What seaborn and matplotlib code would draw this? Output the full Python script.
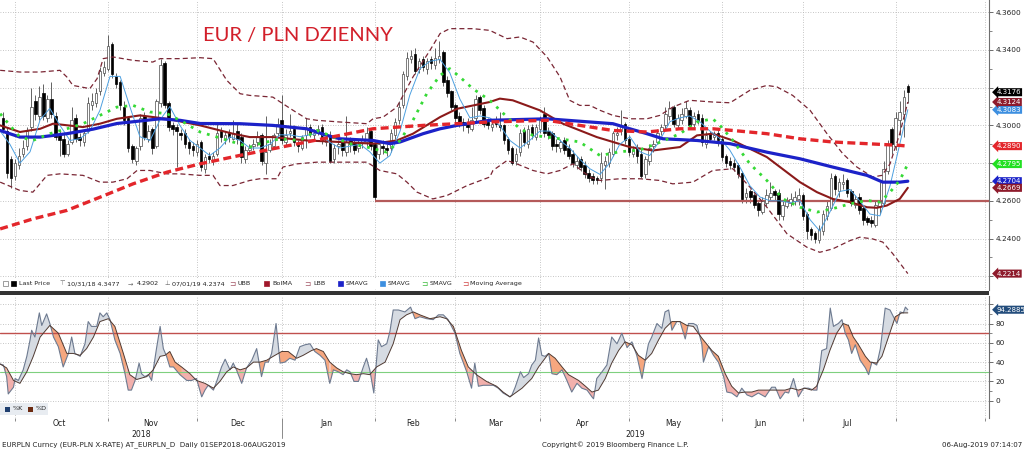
import numpy as np
import pandas as pd
import matplotlib
matplotlib.use("Agg")
import matplotlib.pyplot as plt
import matplotlib.transforms as mtransforms
from matplotlib.patches import Rectangle
import seaborn as sns

# ------------------------------------------------------------------ data
# prices are stored as thousandths above 4.2000  (price = 4.2 + v/1000)
BASE = 4.2
first_day = "2018-09-26"     # trading day 0
axis_end = "2019-09-03"      # right end of the time axis

open_v = [104, 97, 82, 73, 79, 85, 89, 99, 113, 105, 117, 104, 114, 105, 95,
          93, 85, 91, 104, 94, 91, 97, 111, 112, 118, 128, 130, 143, 126, 123,
          110, 104, 89, 81, 89, 105, 93, 98, 89, 112, 133, 112, 100, 99, 96,
          96, 91, 89, 86, 91, 77, 84, 81, 85, 97, 93, 96, 93, 97, 94,
          82, 87, 89, 91, 95, 80, 87, 89, 96, 103, 91, 96, 98, 90, 88,
          95, 99, 95, 97, 99, 91, 95, 82, 89, 91, 86, 92, 91, 88, 91,
          91, 97, 90, 85, 89, 88, 88, 95, 103, 111, 126, 135, 138, 130, 135,
          130, 135, 132, 135, 139, 124, 118, 111, 105, 102, 101, 98, 104, 115, 109,
          102, 99, 102, 100, 100, 93, 88, 81, 86, 97, 90, 99, 94, 98, 106,
          97, 96, 90, 88, 92, 88, 85, 79, 82, 79, 75, 73, 72, 72, 79,
          80, 85, 95, 97, 101, 93, 85, 88, 85, 74, 81, 89, 91, 97, 100,
          105, 110, 100, 103, 105, 108, 101, 106, 104, 90, 96, 94, 96, 93, 84,
          81, 80, 79, 75, 62, 65, 63, 59, 54, 59, 62, 65, 64, 52, 57,
          59, 60, 61, 63, 53, 45, 43, 39, 44, 52, 56, 73, 65, 69, 71,
          65, 58, 62, 56, 51, 50, 47, 57, 59, 76, 98, 89, 103, 106, 121]
close_v = [98, 75, 72, 80, 84, 88, 97, 110, 106, 115, 105, 114, 106, 94, 92,
           85, 90, 103, 93, 92, 96, 112, 113, 117, 129, 131, 142, 127, 122, 111,
           103, 88, 82, 88, 104, 94, 97, 88, 113, 132, 111, 99, 98, 97, 95,
           90, 88, 87, 90, 78, 83, 82, 84, 96, 94, 95, 94, 96, 93, 83,
           87, 88, 90, 94, 81, 86, 90, 95, 101, 92, 95, 97, 91, 89, 94,
           98, 96, 96, 98, 92, 94, 81, 88, 90, 87, 91, 90, 87, 90, 92,
           96, 89, 62, 90, 88, 87, 96, 102, 110, 127, 136, 137, 129, 134, 131,
           134, 133, 136, 137, 123, 117, 110, 104, 101, 100, 99, 103, 114, 108, 101,
           100, 101, 101, 99, 92, 87, 80, 85, 96, 91, 98, 95, 99, 103, 96,
           95, 89, 89, 91, 87, 84, 80, 81, 78, 74, 72, 71, 71, 80, 81,
           86, 96, 96, 100, 92, 86, 87, 84, 73, 82, 88, 90, 96, 99, 106,
           109, 101, 104, 106, 109, 100, 105, 103, 91, 95, 93, 95, 92, 83, 80,
           79, 78, 74, 61, 64, 62, 58, 55, 60, 63, 64, 63, 53, 58, 60,
           61, 62, 63, 52, 44, 42, 40, 45, 53, 57, 72, 66, 70, 70, 64,
           59, 61, 55, 50, 49, 48, 58, 60, 77, 90, 90, 104, 107, 115, 117.6]
high_v = [107, 99, 84, 82, 88, 92, 99, 120, 116, 121, 122, 116, 123, 107, 97,
          96, 92, 110, 106, 96, 97, 115, 117, 120, 131, 134, 147.7, 144, 128, 124,
          113, 105, 90, 89, 106, 107, 100, 99, 114, 135, 134, 113, 102, 101, 98,
          98, 93, 91, 92, 92, 85, 86, 86, 102, 99, 97, 98, 103, 101, 96,
          89, 90, 93, 97, 96, 105, 93, 96, 104, 116, 98, 106, 100, 92, 95,
          104, 101, 98, 100, 101, 96, 97, 90, 92, 93, 105, 94, 93, 92, 95,
          99, 98, 91, 91, 92, 90, 98, 104, 113, 129, 139, 140, 141, 136, 137,
          136, 137, 141, 144.5, 140, 126, 119, 112, 107, 104, 104, 110, 116, 116, 111,
          104, 103, 105, 107, 101, 94, 89, 88, 98, 99, 100, 101, 101, 105, 110,
          99, 97, 93, 93, 94, 90, 87, 84, 84, 81, 77, 75, 73, 86, 84,
          88, 97, 99, 108, 102, 95, 89, 90, 88, 84, 90, 92, 98, 101, 110,
          113, 111, 106, 109, 113, 110, 107, 108, 106, 97, 97, 97, 98, 95, 85,
          83, 82, 80, 76, 67, 66, 64, 60, 62, 66, 70, 66, 66, 60, 62,
          64, 65, 67, 64, 54, 46, 44, 47, 55, 60, 75, 74, 72, 74, 72,
          66, 63, 64, 57, 52, 52, 60, 70, 81, 92, 99, 107, 113, 119, 122]
low_v = [96, 72, 67, 71, 77, 83, 87, 97, 103, 103, 103, 102, 104, 92, 84,
         83, 84, 90, 91, 89, 89, 96, 108, 110, 116, 126, 129, 125, 120, 108,
         100, 86, 80, 79, 87, 92, 91, 85, 88, 110, 109, 97, 95, 78, 92,
         88, 85, 84, 84, 76, 75, 80, 79, 84, 91, 90, 91, 92, 90, 80,
         80, 85, 87, 89, 79, 74, 86, 88, 94, 90, 89, 94, 89, 86, 87,
         88, 94, 93, 95, 90, 89, 80, 80, 85, 84, 84, 86, 85, 86, 88,
         89, 87, 60, 82, 85, 84, 86, 93, 101, 109, 124, 133, 127, 128, 129,
         127, 130, 130, 133, 121, 115, 108, 101, 99, 97, 96, 97, 102, 106, 99,
         98, 97, 99, 97, 90, 85, 79, 79, 84, 89, 88, 93, 92, 96, 94,
         93, 87, 86, 86, 85, 82, 78, 77, 76, 72, 70, 69, 69, 70, 66,
         78, 84, 92, 95, 90, 84, 83, 80, 72, 72, 79, 86, 90, 95, 98,
         103, 99, 98, 101, 104, 98, 99, 101, 89, 88, 91, 92, 89, 81, 78,
         77, 76, 72, 59, 59, 59, 56, 52, 53, 57, 60, 60, 50, 50, 56,
         57, 58, 58, 50, 40, 39, 37.4, 37.5, 42, 50, 55, 63, 62, 66, 62,
         57, 56, 53, 47, 47, 46, 46, 53, 57, 74, 85, 87, 95, 94, 112]

# indicator lines (trading-day number, value)
ubb_day = [-0.7, 4.2, 9.2, 14.1, 15.8, 17.3, 21.5, 23.3, 24.8, 27.2, 32.2, 37.1, 38.9, 43.8, 48.8, 52.0,
           55.4, 58.7, 61.1, 66.8, 69.3, 71.8, 75.2, 77.7, 83.4, 90.1, 91.6, 94.1, 97.5, 101.5, 105.7,
           108.2, 110.6, 116.3, 120.5, 124.8, 128.0, 131.2, 134.7, 137.9, 140.3, 142.8, 145.3, 147.8,
           151.0, 155.2, 159.4, 162.6, 165.8, 170.0, 175.7, 180.0, 184.9, 189.1, 191.6, 195.5, 199.8,
           204.0, 207.9, 211.4, 215.3, 217.6, 219.6, 222.0, 224.0]
ubb_v = [129.2, 128.3, 128.3, 129.2, 125.7, 121.2, 119.5, 124.8, 135.4, 136.3, 134.5, 133.6, 135.4, 135.4,
         135.9, 135.4, 123.9, 116.8, 115.9, 115.0, 111.5, 108.0, 103.5, 102.7, 101.8, 100.9, 103.5, 104.4,
         109.7, 125.7, 139.8, 148.7, 151.3, 151.3, 150.4, 146.0, 146.9, 144.2, 136.3, 125.7, 113.3, 110.6,
         110.6, 108.0, 105.3, 103.5, 103.5, 105.3, 109.7, 113.3, 112.4, 112.0, 118.6, 121.2, 120.4, 115.9,
         108.0, 95.6, 85.0, 77.9, 72.6, 73.5, 79.6, 95.6, 112.4]
lbb_day = [-0.7, 4.2, 7.4, 10.9, 14.1, 19.8, 24.0, 27.2, 30.7, 33.2, 36.4, 40.6, 43.8, 48.8, 52.0, 53.7,
           56.9, 61.1, 63.6, 67.8, 69.3, 72.8, 77.7, 83.4, 90.1, 93.3, 97.5, 100.0, 102.5, 106.4, 109.9,
           114.9, 120.5, 121.3, 124.8, 127.2, 131.2, 134.7, 137.9, 141.1, 145.3, 147.8, 152.7, 157.7,
           162.6, 165.8, 170.8, 175.7, 180.7, 184.9, 189.1, 194.1, 199.0, 202.2, 205.4, 209.7, 212.1,
           215.3, 217.8, 220.3, 224.0]
lbb_v = [69.9, 65.5, 64.6, 73.5, 74.3, 73.5, 69.9, 69.9, 71.7, 76.1, 76.1, 74.3, 74.3, 73.5, 73.5, 68.1,
         68.1, 70.8, 71.7, 71.7, 77.9, 79.6, 80.5, 80.5, 80.5, 76.1, 74.3, 69.9, 64.6, 61.0, 62.8, 68.1,
         72.6, 76.1, 81.4, 79.6, 76.1, 74.3, 76.1, 79.6, 72.6, 70.8, 71.7, 71.7, 70.8, 69.0, 69.9, 76.1,
         77.0, 67.3, 56.6, 42.5, 35.4, 32.7, 34.5, 38.9, 40.7, 39.8, 38.1, 31.9, 21.4]
bolma_day = [-0.7, 4.2, 9.2, 12.4, 19.8, 24.0, 28.2, 33.9, 40.6, 48.8, 56.9, 61.1, 66.8, 75.2, 83.4, 91.6,
             97.5, 101.5, 108.2, 112.4, 120.5, 123.0, 126.2, 132.9, 138.6, 147.0, 155.2, 160.9, 167.6,
             171.8, 175.7, 180.7, 189.1, 197.3, 201.5, 205.4, 209.7, 213.9, 216.3, 218.8, 222.0, 224.0]
bolma_v = [100.0, 96.5, 98.2, 100.9, 99.1, 100.9, 103.5, 105.3, 103.5, 100.0, 95.6, 93.8, 93.8, 92.0, 91.2,
           90.3, 92.0, 95.6, 104.4, 108.8, 112.4, 114.2, 113.3, 108.0, 100.9, 93.8, 88.5, 86.7, 88.5, 94.7,
           95.6, 92.0, 83.2, 69.9, 64.6, 61.0, 59.3, 56.6, 56.3, 57.5, 61.0, 66.9]
sma_blue_day = [-0.7, 4.2, 9.2, 15.8, 22.3, 28.2, 38.9, 43.8, 48.8, 58.7, 66.8, 75.2, 80.2, 83.4, 91.6,
                95.8, 98.3, 104.0, 108.2, 112.4, 120.5, 134.7, 151.0, 155.2, 159.4, 163.4, 171.8, 180.0,
                189.1, 197.3, 205.4, 213.9, 217.8, 222.0, 224.0]
sma_blue_v = [97.3, 93.8, 93.8, 95.6, 98.0, 101.0, 103.5, 102.7, 101.0, 100.9, 100.0, 98.2, 94.7, 92.9,
              92.0, 90.3, 91.2, 95.6, 98.2, 100.0, 102.7, 103.5, 100.9, 98.2, 95.6, 92.9, 92.0, 90.3,
              85.8, 82.3, 77.9, 73.5, 69.9, 69.9, 70.4]
sma_light_day = [-0.7, 1.7, 4.2, 6.7, 9.2, 11.6, 14.1, 16.6, 19.1, 21.5, 24.0, 26.5, 29.0, 31.4, 33.9, 36.4,
                 38.9, 41.3, 43.8, 46.3, 48.8, 51.2, 53.7, 56.2, 58.7, 61.1, 63.6, 66.1, 68.6, 71.0, 73.5,
                 76.0, 78.5, 80.9, 83.4, 85.9, 88.4, 90.8, 93.3, 95.8, 98.3, 100.7, 103.2, 105.7, 108.2,
                 110.6, 113.1, 115.6, 118.1, 120.5, 123.0, 125.5, 128.0, 130.4, 132.9, 135.4, 137.9, 140.3,
                 142.8, 145.3, 147.8, 150.2, 152.7, 155.2, 157.7, 160.1, 162.6, 165.1, 167.6, 170.0, 172.5,
                 175.0, 177.5, 179.9, 182.4, 184.9, 187.4, 189.9, 192.3, 194.8, 197.3, 199.8, 202.2, 204.7,
                 207.2, 209.7, 212.1, 214.6, 217.1, 219.6, 222.0, 224.0]
sma_light_v = [97, 90, 80, 86, 103, 109, 100, 92, 93, 97, 108, 126, 126, 110, 94, 92, 103, 110, 100, 92,
               88, 84, 88, 94, 92, 88, 88, 90, 95, 95, 94, 95, 96, 91, 88, 89, 90, 86, 80, 84,
               97, 116, 130, 134, 135, 128, 114, 104, 105, 104, 100, 92, 88, 92, 97, 97, 92, 88, 82, 77,
               74, 80, 90, 94, 86, 84, 92, 102, 104, 105, 102, 97, 93, 87, 78, 68, 62, 60, 60, 59,
               60, 50, 44, 54, 65, 66, 60, 53, 52, 68, 90, 108.3]
sma_green_day = [-0.7, 1.7, 4.2, 7.4, 11.6, 15.8, 19.8, 24.0, 28.2, 32.2, 36.4, 40.6, 44.6, 48.8, 53.0,
                 56.9, 61.1, 63.6, 68.6, 73.5, 77.7, 80.9, 85.9, 90.1, 95.0, 98.3, 101.5, 104.9, 108.2,
                 110.6, 113.1, 116.3, 120.5, 124.8, 128.0, 131.2, 134.7, 137.9, 142.8, 147.8, 152.7,
                 157.7, 162.6, 167.6, 171.8, 175.7, 177.5, 180.7, 184.9, 189.1, 193.1, 197.3, 201.5,
                 205.4, 209.7, 213.9, 217.1, 219.6, 222.0, 224.0]
sma_green_v = [106.2, 100.0, 93.8, 92.0, 95.6, 98.2, 100.9, 105.3, 109.7, 110.6, 107.1, 106.2, 101.8, 96.5,
               93.8, 91.2, 88.5, 90.3, 92.9, 92.0, 97.3, 94.7, 90.3, 88.5, 85.8, 92.0, 102.7, 116.8, 126.5,
               130.1, 125.7, 119.5, 113.3, 104.4, 98.2, 94.7, 93.8, 92.9, 91.2, 84.0, 86.0, 87.0, 91.0,
               95.6, 101.8, 103.5, 100.0, 92.0, 79.6, 70.8, 61.0, 56.6, 54.0, 55.8, 58.4, 60.2, 59.3,
               64.6, 70.8, 79.5]
mavg_day = [-0.7, 7.4, 15.8, 24.0, 32.2, 40.6, 48.8, 58.7, 75.2, 91.6, 104.0, 120.5, 134.7, 142.8, 151.0,
            159.4, 167.6, 175.7, 180.7, 189.1, 197.3, 205.4, 213.9, 222.0, 224.0]
mavg_v = [45.1, 50.4, 54.9, 61.9, 69.0, 75.2, 79.6, 84.1, 91.2, 98.2, 100.0, 101.8, 102.7, 100.0, 97.3,
          96.5, 98.2, 98.2, 97.3, 95.6, 92.9, 91.2, 90.3, 89.4, 89.0]
support_level = 4.2600
support_from_day = 92

# stochastic oscillator (%K, %D)
k_day = [-0.7, 0.1, 0.9, 1.3, 2.6, 3.0, 3.8, 5.0, 5.9, 6.7, 7.1, 7.9, 9.0, 9.6, 10.8, 11.6, 12.5, 13.7, 14.9,
         16.2, 17.0, 17.8, 19.1, 20.3, 21.1, 21.9, 23.2, 24.0, 24.8, 25.7, 26.5, 27.7, 29.0, 30.2, 31.0, 31.8,
         32.7, 33.7, 34.3, 35.1, 36.0, 36.8, 38.0, 38.9, 39.7, 40.5, 41.3, 42.2, 43.8, 45.5, 46.7, 47.9, 49.2,
         50.0, 50.8, 52.1, 52.9, 54.1, 55.0, 56.2, 57.0, 57.8, 59.1, 60.3, 61.6, 62.8, 64.0, 64.9, 65.7, 66.5,
         67.6, 68.6, 69.8, 71.0, 72.3, 73.5, 74.8, 76.0, 77.2, 78.5, 79.7, 80.9, 81.8, 83.0, 84.2, 85.1, 85.9,
         86.9, 88.0, 89.2, 90.0, 90.8, 91.8, 92.9, 93.7, 95.0, 95.8, 96.6, 97.9, 99.5, 100.9, 102.0, 103.2,
         104.9, 106.5, 107.8, 109.0, 110.2, 111.9, 113.1, 114.8, 116.0, 116.8, 117.7, 118.9, 120.1, 121.4,
         122.6, 123.8, 125.5, 126.0, 126.8, 128.1, 128.9, 130.1, 130.9, 131.8, 132.6, 133.4, 134.2, 135.1,
         135.9, 137.1, 138.4, 139.6, 140.8, 142.1, 143.3, 144.6, 145.8, 146.2, 147.0, 148.3, 149.5, 150.7,
         152.0, 153.2, 154.5, 155.7, 156.9, 158.2, 159.0, 159.8, 160.6, 161.9, 163.1, 163.9, 164.8, 165.6,
         166.8, 167.6, 168.9, 169.7, 170.9, 171.8, 173.0, 173.4, 174.7, 175.9, 177.1, 178.4, 179.2, 180.4,
         181.7, 182.9, 184.2, 185.4, 187.0, 188.7, 190.3, 191.2, 192.4, 193.6, 194.5, 195.7, 196.9, 198.2,
         199.4, 200.7, 201.5, 202.7, 203.9, 204.8, 205.6, 206.8, 207.7, 208.5, 209.3, 210.1, 211.0, 212.2,
         213.5, 214.3, 215.1, 216.3, 217.2, 218.4, 219.6, 221.3, 222.1, 222.9, 223.4, 224.0]
k_val = [38, 37, 25, 7, 14, 23, 21, 32, 46, 63, 73, 66, 91, 78, 90, 80, 66, 56, 35,
         49, 66, 49, 46, 59, 82, 77, 77, 91, 87, 91, 84, 63, 49, 28, 11, 11,
         21, 39, 28, 25, 27, 21, 54, 77, 54, 46, 35, 35, 27, 21, 21, 23, 4,
         11, 16, 11, 20, 35, 43, 32, 39, 32, 18, 34, 42, 54, 25, 40, 40, 49,
         80, 39, 40, 44, 42, 56, 58, 59, 51, 47, 42, 18, 32, 30, 27, 32, 30,
         20, 20, 35, 44, 32, 8, 63, 56, 59, 72, 94, 94, 92, 97, 85, 87,
         85, 84, 89, 89, 84, 70, 49, 30, 13, 39, 15, 16, 16, 16,
         13, 8, 4, 6, 14, 30, 24, 28, 37, 42, 65, 47, 46, 49,
         28, 27, 32, 21, 9, 18, 13, 11, 4, 2, 23, 30, 37, 66,
         59, 70, 55, 61, 47, 23, 42, 59, 66, 80, 75, 92, 94, 73,
         82, 82, 64, 80, 80, 78, 59, 40, 56, 47, 40, 25, 9, 8,
         4, 13, 6, 4, 8, 4, 14, 14, 2, 9, 8, 23, 4, 13,
         13, 11, 11, 52, 54, 96, 77, 80, 84, 70, 63, 49, 58, 42,
         34, 27, 40, 37, 54, 96, 94, 80, 92, 91, 97, 94.2885]
d_day = [-0.7, 0.9, 2.6, 4.2, 5.9, 7.5, 9.2, 11.6, 13.7, 15.8, 17.4, 19.1, 20.7, 22.4, 24.0, 26.1, 27.7,
         29.8, 31.4, 33.1, 35.6, 37.2, 38.9, 40.1, 41.3, 42.6, 44.2, 46.3, 47.9, 50.0, 52.1, 53.7, 55.4,
         57.0, 58.7, 60.3, 62.0, 63.6, 65.3, 66.9, 69.0, 70.6, 72.7, 74.3, 76.4, 77.6, 79.3, 80.9, 82.6,
         84.2, 85.9, 87.5, 89.2, 90.8, 92.5, 94.6, 96.6, 98.3, 99.9, 101.6, 103.2, 105.7, 108.2, 109.8,
         111.5, 113.5, 115.2, 117.2, 119.7, 122.2, 123.8, 125.5, 128.5, 130.9, 132.6, 134.2, 135.1, 136.7,
         138.4, 140.0, 142.5, 144.2, 145.8, 147.4, 149.1, 150.7, 152.4, 154.0, 155.7, 157.3, 159.0, 160.6,
         162.3, 163.9, 165.6, 167.6, 169.3, 170.9, 173.0, 175.5, 177.1, 178.8, 180.4, 182.1, 183.7, 185.4,
         187.0, 188.7, 190.3, 191.9, 193.6, 195.2, 196.9, 198.5, 200.2, 201.4, 203.1, 204.7, 206.4, 208.0,
         209.3, 210.5, 211.8, 213.5, 214.7, 216.3, 217.6, 219.2, 220.9, 222.5, 224.0]
d_val = [38, 34, 21, 18, 30, 46, 66, 78, 70, 49, 49, 47, 54, 66, 82, 85, 77,
         49, 27, 22, 25, 32, 46, 47, 51, 40, 35, 28, 21, 18, 13, 20, 30,
         35, 32, 34, 40, 40, 42, 46, 51, 51, 44, 47, 52, 54, 51, 40, 34,
         30, 28, 27, 28, 27, 35, 40, 59, 84, 89, 92, 89, 85, 87, 85,
         77, 52, 35, 27, 20, 15, 9, 4, 13, 23, 35, 44, 49, 44,
         35, 27, 21, 15, 9, 11, 23, 39, 52, 61, 58, 47, 42, 49,
         63, 75, 82, 82, 78, 77, 65, 52, 46, 28, 15, 8, 9, 9,
         11, 11, 11, 11, 11, 13, 11, 13, 11, 15, 32, 52, 70, 80,
         78, 66, 58, 46, 40, 39, 46, 66, 87, 91, 91]
stoch_upper, stoch_lower = 70, 30

# right-edge value tags (value, colour)
price_tags = [(4.3083, "#3d8fe0"), (4.3124, "#8e1b2c"), (4.3176, "#000000"),
              (4.2890, "#e3262b"), (4.2795, "#22e022"), (4.2704, "#1a22c8"),
              (4.2669, "#8e1b2c"), (4.2214, "#8e1b2c")]
stoch_tag = 94.2885
# right-axis labels that sit under a value tag in the chart
price_ticks = [4.22, 4.24, 4.26, 4.28, 4.30, 4.32, 4.34, 4.36]
price_tick_shown = [False, True, True, False, True, False, True, True]
stoch_ticks = [0, 20, 40, 60, 80, 100]
stoch_tick_shown = [True, True, True, True, True, False]

title_text = "EUR / PLN DZIENNY"
legend_items = ["Last Price", "10/31/18 4.3477", "4.2902", "07/01/19 4.2374", "UBB", "BolMA",
                "LBB", "SMAVG", "SMAVG", "SMAVG", "Moving Average"]
footer_left = "EURPLN Curncy (EUR-PLN X-RATE) AT_EURPLN_D  Daily 01SEP2018-06AUG2019"
footer_mid = "Copyright\u00a9 2019 Bloomberg Finance L.P."
footer_right = "06-Aug-2019 07:14:07"

# ------------------------------------------------------------------ figure
sns.set_theme(style="white")
plt.rcParams["font.family"] = ["DejaVu Sans"]

W, H = 1024, 451
fig = plt.figure(figsize=(W / 100, H / 100), dpi=100)
fig.patch.set_facecolor("white")


def fx(px):
    return px / W


def fy(px):
    return 1 - px / H


ax1 = fig.add_axes([0, fy(290), fx(989), 290 / H])
ax2 = fig.add_axes([0, fy(418), fx(989), (418 - 296) / H])
for a in (ax1, ax2):
    a.set_facecolor("white")

P = lambda v: BASE + np.asarray(v, float) / 1000.0

cal = pd.bdate_range(first_day, axis_end)
XMIN, XMAX = -0.74, len(cal) - 0.9
ax1.set_xlim(XMIN, XMAX)
ax2.set_xlim(XMIN, XMAX)
ax1.set_ylim(4.2127, 4.3665)
ax2.set_ylim(-17.9, 108.5)

# month boundaries / label positions from the business-day calendar
per = cal.to_period("M")
month_start, month_mid, month_lab = [], [], []
for p in per.unique():
    ids = np.where(per == p)[0]
    if ids[0] > 0:
        month_start.append(ids[0])
    if ids[0] > 0 and ids[-1] < len(cal) - 3:
        month_mid.append((ids[0] + ids[-1]) / 2)
        month_lab.append(p.strftime("%b"))
jan_idx = int(np.where((cal.month == 1) & (cal.year == 2019))[0][0])

grid_kw = dict(color="#b3b3b3", lw=0.6, linestyle=(0, (1, 2)), zorder=0.5)
for m in month_start:
    ax1.axvline(m, **grid_kw)
    ax2.axvline(m, **grid_kw)
for yv in price_ticks:
    ax1.axhline(yv, **grid_kw)
for yv in stoch_ticks:
    ax2.axhline(yv, **grid_kw)
ax2.axhline(-17.6, color="#9a9a9a", lw=0.7, linestyle=(0, (1, 2)), zorder=0.5)

# ---- candles
o, c, h, l = P(open_v), P(close_v), P(high_v), P(low_v)
days = np.arange(len(close_v))
up = c >= o
ax1.vlines(days, l, h, color="#4a4a4a", lw=0.6, zorder=2)
ax1.bar(days[up], np.maximum((c - o)[up], 0.00015), bottom=o[up], width=0.62, color="white",
        edgecolor="#4a4a4a", linewidth=0.5, zorder=3)
ax1.bar(days[~up], (o - c)[~up], bottom=c[~up], width=0.62, color="black",
        edgecolor="black", linewidth=0.5, zorder=3)

# ---- support line
ax1.hlines(support_level, support_from_day, XMAX, color="#b45a5a", lw=1.6, zorder=2.5)


def sline(ax, xd, yv, color, lw, dash=None, z=4, cap="butt"):
    sns.lineplot(x=np.asarray(xd, float), y=np.asarray(yv, float), ax=ax, estimator=None,
                 sort=False, legend=False, color=color, linewidth=lw, zorder=z)
    ln = ax.lines[-1]
    if dash is not None:
        ln.set_linestyle((0, dash))
        ln.set_dash_capstyle(cap)
    return ln


sline(ax1, ubb_day, P(ubb_v), "#7a2634", 0.9, dash=(4, 2.5))
sline(ax1, lbb_day, P(lbb_v), "#7a2634", 0.9, dash=(4, 2.5))
sline(ax1, bolma_day, P(bolma_v), "#8b1a1a", 1.5)
sline(ax1, sma_light_day, P(sma_light_v), "#4da0e0", 0.7)
sline(ax1, sma_blue_day, P(sma_blue_v), "#1c22c8", 2.3, z=4.5)
sline(ax1, sma_green_day, P(sma_green_v), "#36d936", 2.0, dash=(1.0, 2.2), z=4.6)
sline(ax1, mavg_day, P(mavg_v), "#e3262b", 2.4, dash=(2.4, 1.3), z=4.7)

# ---- stochastic panel
t = np.linspace(k_day[0], k_day[-1], 6000)
kk = np.interp(t, k_day, k_val)
dd = np.interp(t, d_day, d_val)
low = (kk + dd) / 2 < 30
ax2.fill_between(t, kk, dd, where=kk >= dd, interpolate=True, color="#d6dbe2", lw=0, zorder=1)
ax2.fill_between(t, kk, dd, where=(kk < dd) & ~low, interpolate=True, color="#f6a77f", lw=0, zorder=1)
ax2.fill_between(t, kk, dd, where=(kk < dd) & low, interpolate=True, color="#f2b0ac", lw=0, zorder=1)
ax2.axhline(stoch_upper, color="#c0504d", lw=1.0, zorder=1.5)
ax2.axhline(stoch_lower, color="#7fd07f", lw=0.8, zorder=1.5)
sline(ax2, k_day, k_val, "#6d7a90", 0.8, z=3)
sline(ax2, d_day, d_val, "#4f3a32", 0.7, z=3.1)

# ---- axes cosmetics
for a in (ax1, ax2):
    for s in ("left", "top", "bottom"):
        a.spines[s].set_visible(False)
    a.spines["right"].set_color("#6f6f6f")
    a.spines["right"].set_linewidth(0.8)
    a.yaxis.tick_right()
    a.tick_params(axis="y", which="major", right=True, length=3, width=0.6, color="#555555",
                  labelsize=5.3, labelcolor="#222222", pad=1.5)
    a.tick_params(axis="y", which="minor", right=True, length=2, width=0.5, color="#555555")
    a.set_xlabel("")
    a.set_ylabel("")

ax1.set_yticks(price_ticks)
ax1.set_yticks([v + 0.01 for v in price_ticks[:-1]], minor=True)
ax1.set_yticklabels([f"{v:.4f}" if s else "" for v, s in zip(price_ticks, price_tick_shown)])
ax1.set_xticks([])
ax2.set_yticks(stoch_ticks)
ax2.set_yticks([v + 10 for v in stoch_ticks[:-1]], minor=True)
ax2.set_yticklabels([str(v) if s else "" for v, s in zip(stoch_ticks, stoch_tick_shown)])
ax2.set_xticks(month_start)
ax2.set_xticklabels([])
ax2.tick_params(axis="x", bottom=True, length=2.5, width=0.6, color="#777777")

bx = mtransforms.blended_transform_factory(ax2.transData, ax2.transAxes)
for m, lab in zip(month_mid, month_lab):
    ax2.text(m, -0.049, lab, transform=bx, ha="center", va="center", fontsize=5.6, color="#222222")
ax2.text((XMIN + jan_idx) / 2, -0.133, "2018", transform=bx, ha="center", va="center",
         fontsize=5.6, color="#222222")
ax2.text((jan_idx + XMAX) / 2, -0.133, "2019", transform=bx, ha="center", va="center",
         fontsize=5.6, color="#222222")
ax2.plot([jan_idx, jan_idx], [-0.02, -0.16], transform=bx, color="#8a8a8a", lw=0.7, clip_on=False)

# ---- value tags on the right
tb1 = mtransforms.blended_transform_factory(ax1.transAxes, ax1.transData)
for i, (val, col) in enumerate(price_tags):
    ax1.text(1.0075, val, f"{val:.4f}", transform=tb1, ha="left", va="center", fontsize=5.0,
             color="white", clip_on=False, zorder=20 + i,
             bbox=dict(boxstyle="larrow,pad=0.15", fc=col, ec="none"))
tb2 = mtransforms.blended_transform_factory(ax2.transAxes, ax2.transData)
ax2.text(1.0075, stoch_tag, f"{stoch_tag:.4f}", transform=tb2, ha="left", va="center", fontsize=5.0,
         color="white", clip_on=False, zorder=20,
         bbox=dict(boxstyle="larrow,pad=0.15", fc="#234d7c", ec="none"))

# ---- separator bar between panels
fig.add_artist(Rectangle((0, fy(295)), fx(989), 4.5 / H, transform=fig.transFigure,
                         facecolor="#333333", edgecolor="none", zorder=5))

# ---- title
fig.text(fx(203), fy(35), title_text, fontsize=14.5, color="#d21f2a", family=["Lato", "DejaVu Sans"],
         ha="left", va="center")

# ---- legend strip of the price panel
fig.add_artist(Rectangle((0, fy(289)), fx(522), 11.5 / H, transform=fig.transFigure,
                         facecolor="white", edgecolor="none", zorder=1))
ly = fy(283.5)
lfs = 4.6


def sq(xp, col, ec=None):
    fig.add_artist(Rectangle((fx(xp), fy(286)), fx(5), 5 / H, transform=fig.transFigure,
                             facecolor=col, edgecolor=ec or col, linewidth=0.5, zorder=2))


def ltxt(xp, s, col="#222222", fs=lfs):
    fig.text(fx(xp), ly, s, fontsize=fs, color=col, ha="left", va="center", zorder=3)


sq(2.5, "white", "#777777")
sq(11, "black")
ltxt(19, legend_items[0])
ltxt(59, "\u22a4", "#666666")
ltxt(67, legend_items[1])
ltxt(128, "\u2192", "#666666")
ltxt(137, legend_items[2])
ltxt(164, "\u22a5", "#666666")
ltxt(172, legend_items[3])
ltxt(229, "\u2290", "#a05060", 5.4)
ltxt(238, legend_items[4])
sq(264, "#a0182a")
ltxt(272, legend_items[5])
ltxt(304, "\u2290", "#a05060", 5.4)
ltxt(313, legend_items[6])
sq(338, "#1c22c8")
ltxt(346, legend_items[7])
sq(380, "#3d8fe0")
ltxt(388, legend_items[8])
ltxt(421, "\u2290", "#36b936", 5.4)
ltxt(430, legend_items[9])
ltxt(462, "\u2290", "#d04040", 5.4)
ltxt(470, legend_items[10])

# ---- legend of the stochastic panel
fig.add_artist(Rectangle((0, fy(415)), fx(48), 12 / H, transform=fig.transFigure,
                         facecolor="#e8ecf1", edgecolor="none", zorder=1))
for xp, col, lab in [(5, "#1f3f6f", "%K"), (28, "#6b2a10", "%D")]:
    fig.add_artist(Rectangle((fx(xp), fy(411.5)), fx(5), 5 / H, transform=fig.transFigure,
                             facecolor=col, edgecolor="none", zorder=2))
    fig.text(fx(xp + 8), fy(409), lab, fontsize=4.6, color="#222222", ha="left", va="center")

# ---- footer
fig.text(fx(2), fy(445), footer_left, fontsize=5.1, color="#222222", ha="left", va="center")
fig.text(fx(542), fy(445), footer_mid, fontsize=5.1, color="#222222", ha="left", va="center")
fig.text(fx(1022), fy(445), footer_right, fontsize=5.1, color="#222222", ha="right", va="center")

fig.savefig("out.png", dpi=100, facecolor="white")
